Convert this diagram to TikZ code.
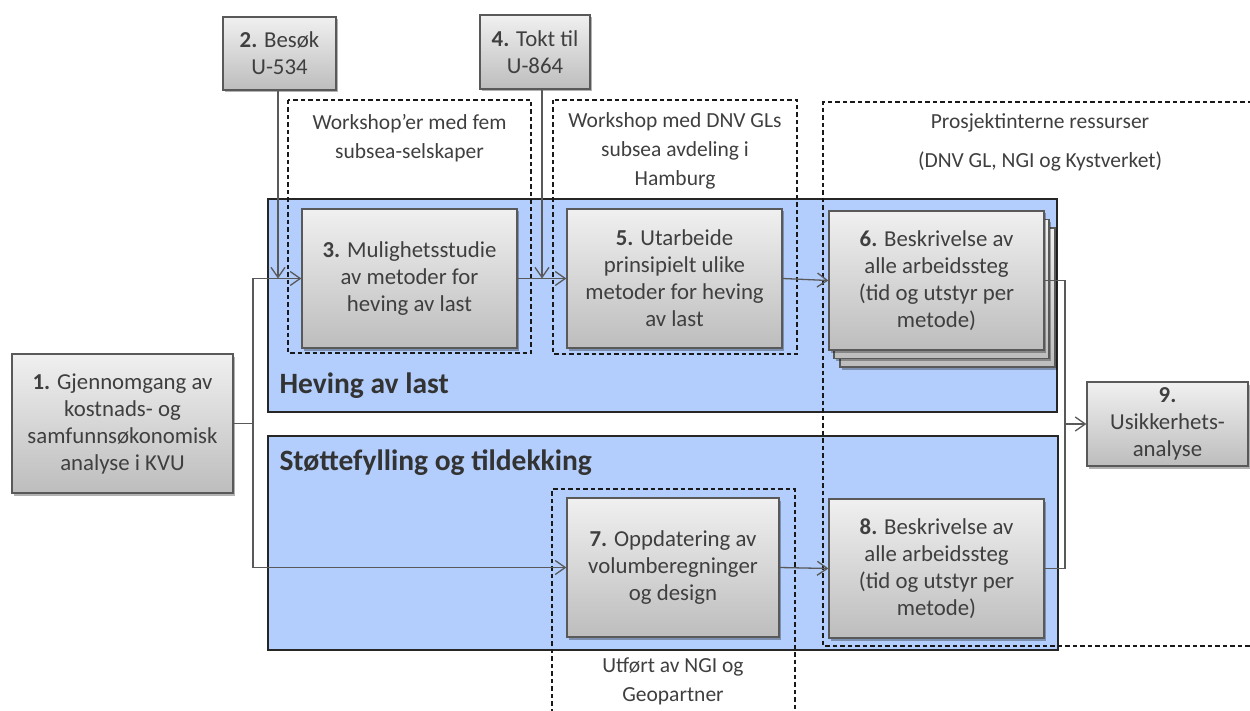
\documentclass[tikz,border=0pt]{standalone}
\usepackage{fontspec}
\setmainfont{Carlito}
\usetikzlibrary{arrows.meta,shadows}
\definecolor{edgegrey}{HTML}{595959}
\definecolor{txtgrey}{HTML}{3F3F3F}
\definecolor{areablue}{HTML}{B3CEFC}
\definecolor{topgrey}{HTML}{F0F0F0}
\definecolor{botgrey}{HTML}{BDBDBD}
\tikzset{
  stepbox/.style={draw=edgegrey, line width=1.3pt, top color=topgrey, bottom color=botgrey,
    drop shadow={shadow xshift=2pt, shadow yshift=-2.5pt, opacity=0.3, fill=black},
    inner sep=0pt, align=center, text=txtgrey, font=\fontsize{22.8}{27}\selectfont},
  area/.style={draw=black!85, line width=1.3pt, fill=areablue},
  grouping/.style={draw=black!90, line width=1.3pt, dash pattern=on 4.5pt off 3pt},
  grouplabel/.style={align=center, text=txtgrey, font=\fontsize{21.5}{29}\selectfont},
  arealabel/.style={anchor=west, text=black!80, font=\fontsize{29.5}{34}\selectfont\bfseries},
  conn/.style={draw=edgegrey, line width=1.3pt},
  arr/.style={conn, -{Straight Barb[length=10pt,width=14pt,line width=1.3pt]}}
}
\begin{document}
\begin{tikzpicture}[x=1pt,y=-1pt]
\useasboundingbox (0,0) rectangle (1250,711);

% areas
\draw[area] (268,199) rectangle (1057,412);
\draw[area] (268,436) rectangle (1058,650);
\node[arealabel] (t1) at (276,386) {Heving av last};
\node[arealabel] (t2) at (276,463) {Støttefylling og tildekking};

% groupings
\draw[grouping] (288,100) rectangle (531,353);
\draw[grouping] (553,100) rectangle (797,354);
\draw[grouping] (1252,102) -- (823,102) -- (823,646) -- (1252,646);
\draw[grouping] (552,713) -- (552,489) -- (795,489) -- (795,713);

\node[grouplabel] (g1) at (409.5,138) {Workshop’er med fem\\subsea-selskaper};
\node[grouplabel] (g2) at (675,151) {Workshop med DNV GLs\\subsea avdeling i\\Hamburg};
\node[grouplabel] (g3) at (1040,142) {Prosjektinterne ressurser\\[10pt](DNV GL, NGI og Kystverket)};
\node[grouplabel] (g4) at (673,681) {Utført av NGI og\\Geopartner};

% step boxes
\node[stepbox, minimum width=221pt, minimum height=139pt] (b1) at (122.5,423.5)
  {\textbf{1.} Gjennomgang av\\kostnads- og\\samfunnsøkonomisk\\analyse i KVU};
\node[stepbox, minimum width=113pt, minimum height=73pt] (b2) at (279.5,53.5)
  {\textbf{2.} Besøk\\U-534};
\node[stepbox, minimum width=110pt, minimum height=74pt] (b4) at (535,52)
  {\textbf{4.} Tokt til\\U-864};
\node[stepbox, minimum width=215pt, minimum height=139pt] (b3) at (409.5,278.5)
  {\textbf{3.} Mulighetsstudie\\av metoder for\\heving av last};
\node[stepbox, minimum width=215pt, minimum height=139pt] (b5) at (674.5,278.5)
  {\textbf{5.} Utarbeide\\prinsipielt ulike\\metoder for heving\\av last};
\path[stepbox] (840,228) rectangle (1055,367);
\path[stepbox] (834,219.5) rectangle (1049,358.5);
\node[stepbox, minimum width=215pt, minimum height=139pt] (b6) at (936.5,280.5)
  {\textbf{6.} Beskrivelse av\\alle arbeidssteg\\(tid og utstyr per\\metode)};
\node[stepbox, minimum width=212pt, minimum height=139pt] (b7) at (673,567.5)
  {\textbf{7.} Oppdatering av\\volumberegninger\\og design};
\node[stepbox, minimum width=215pt, minimum height=139pt] (b8) at (936.5,568.5)
  {\textbf{8.} Beskrivelse av\\alle arbeidssteg\\(tid og utstyr per\\metode)};
\node[stepbox, minimum width=161pt, minimum height=84pt] (b9) at (1167.5,424)
  {\textbf{9.}\\Usikkerhets-\\analyse};

% connectors
\coordinate (j1) at (253,423.5);
\coordinate (j2) at (1065,424);
\coordinate (s4) at (542,89);
\draw[conn] (b1.east) -- (j1);
\draw[arr] (j1) |- (b3.west);
\draw[arr] (j1) |- (b7.west);
\draw[arr] ([xshift=-1.5pt]b2.south) -- ([xshift=-1.5pt]b2.south |- b3.west);
\draw[arr] (s4) -- (s4 |- b3.west);
\draw[arr] (b3.east) -- (b5.west);
\draw[arr] (b5.east) -- (b6.west);
\draw[arr] (b7.east) -- (b8.west);
\draw[conn] (b6.east) -| (j2);
\draw[conn] (b8.east) -| (j2);
\draw[arr] (j2) -- (b9.west);
\end{tikzpicture}
\end{document}
